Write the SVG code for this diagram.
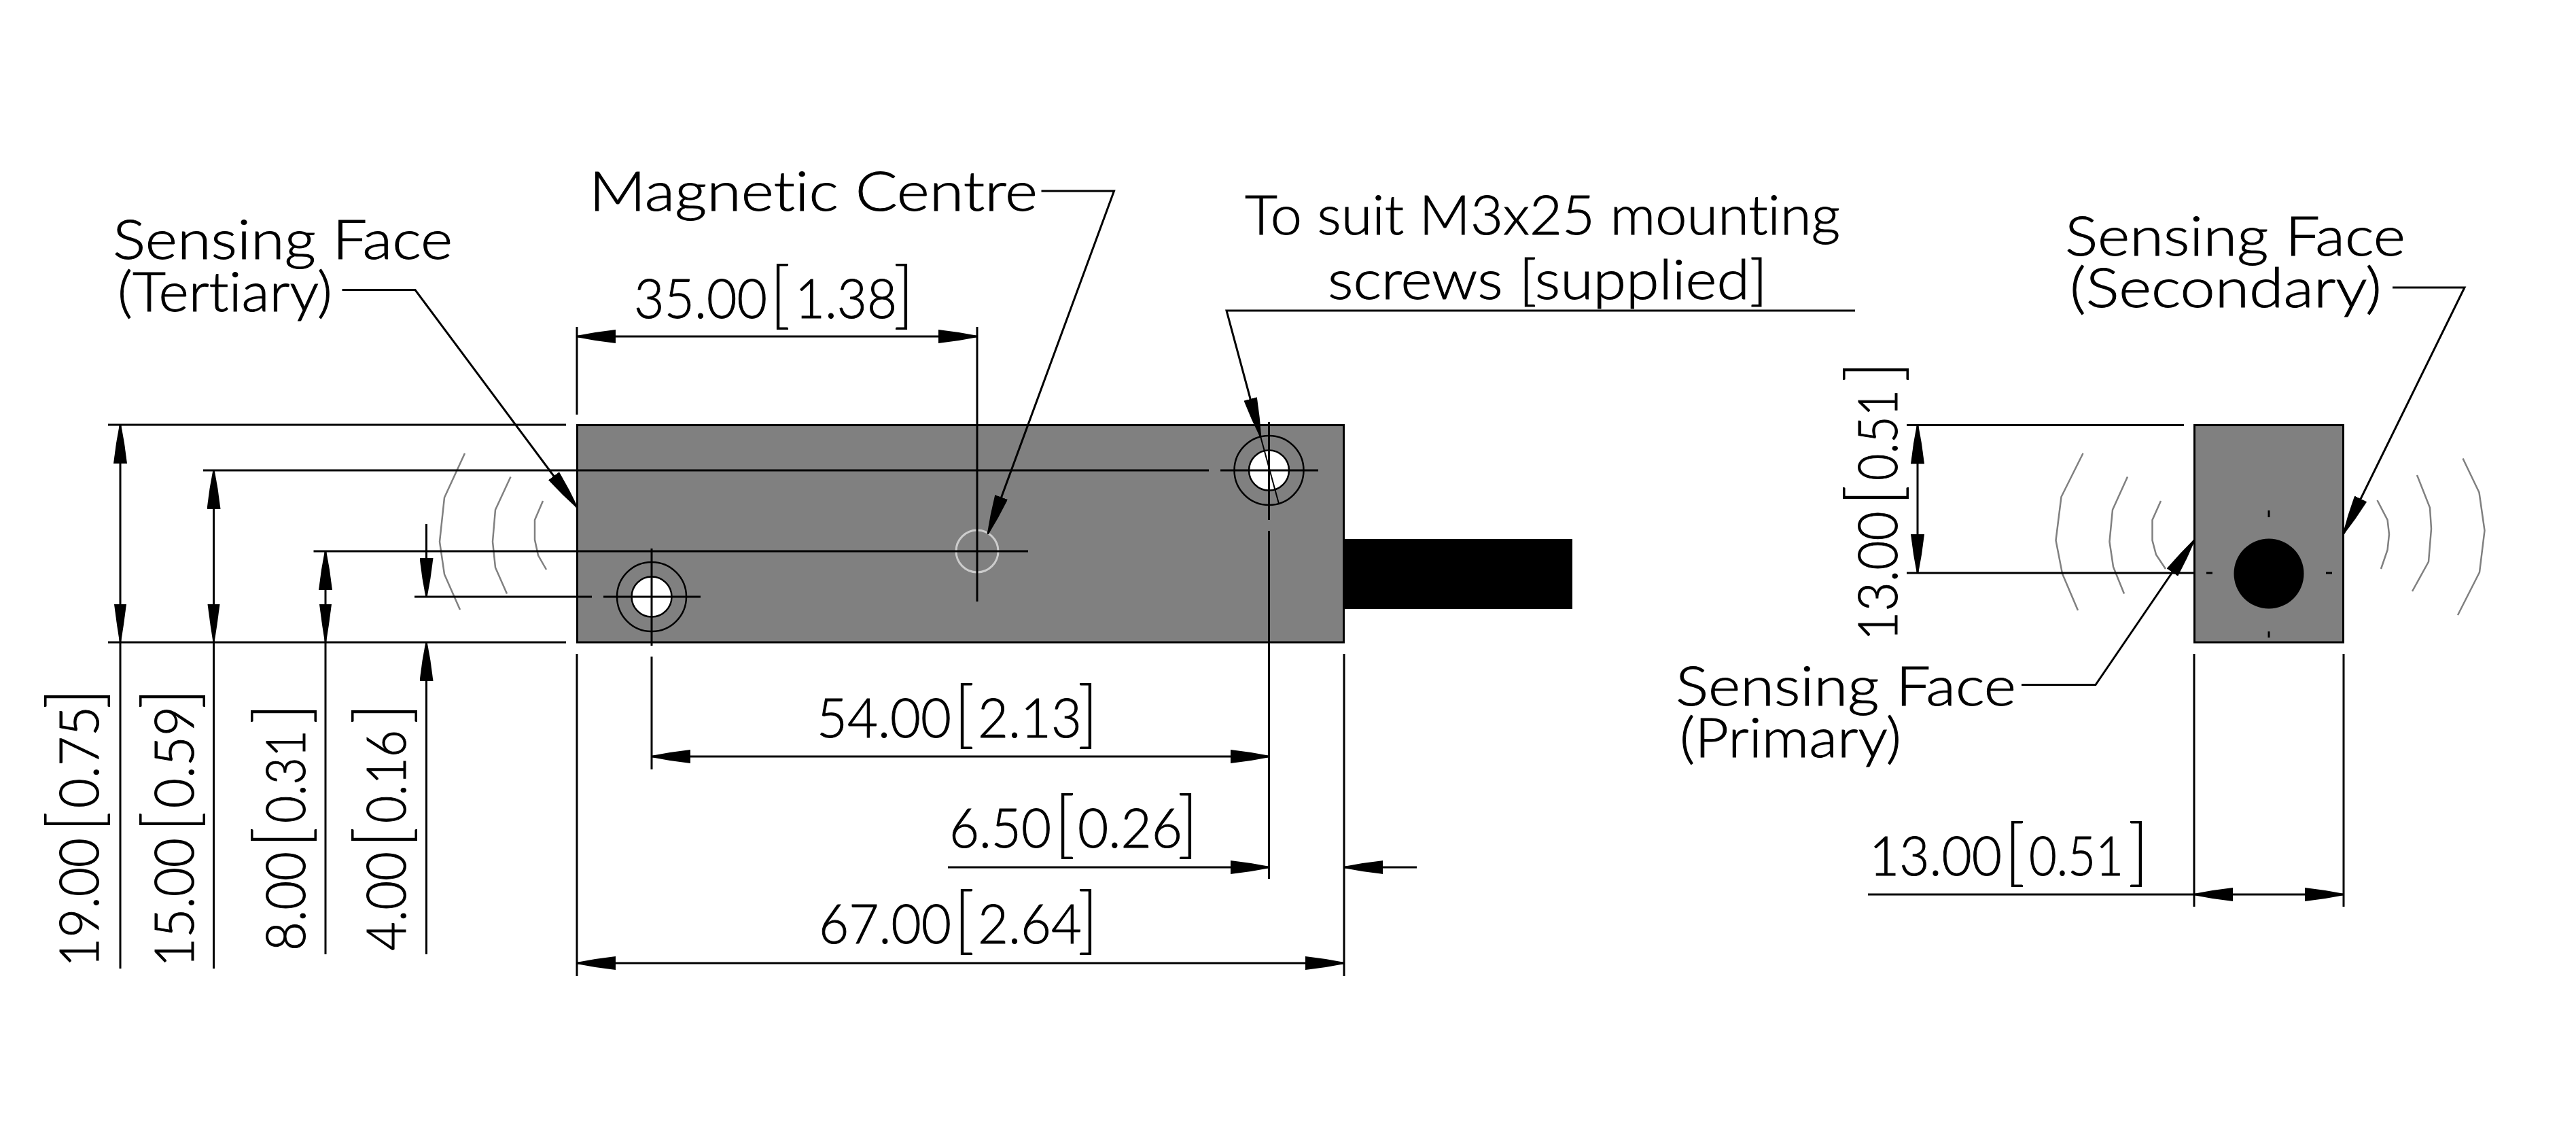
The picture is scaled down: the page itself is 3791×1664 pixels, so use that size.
<svg xmlns="http://www.w3.org/2000/svg" width="3791" height="1664" viewBox="0 0 3791 1664">
<style>
text{font-family:Lato,"Noto Sans","Liberation Sans",sans-serif;font-size:80px;fill:#000;font-weight:300;white-space:pre;font-variant-ligatures:none;stroke:#000;stroke-width:1}
.b{font-size:108px;font-weight:300;stroke:none;baseline-shift:-3px}
.d{fill:none;stroke:#000;stroke-width:3}
.a{marker-end:url(#ah)}
.s{marker-start:url(#ah);marker-end:url(#ah)}
.w{fill:none;stroke:#808080;stroke-width:2.5}
.body{fill:#808080;stroke:#000;stroke-width:3}
.hole{fill:none;stroke:#000;stroke-width:2.500}
</style>
<defs>
<marker id="ah" markerUnits="userSpaceOnUse" markerWidth="58" markerHeight="20" viewBox="0 0 58 20" refX="57" refY="10" orient="auto-start-reverse"><path id="ahp" d="M0 0L30 4L58 9V11L30 16L0 20Z" fill="#000"/></marker>
</defs>
<rect width="3791" height="1664" fill="#fff"/>
<g id="front-view">
<rect x="1978" y="793" width="336" height="103" fill="#000"/>
<rect class="body" x="849.5" y="625.5" width="1128" height="319.5"/>
</g>
<g id="hole-left"><circle cx="959" cy="878" r="51" class="hole"/><circle cx="959" cy="878" r="29.500" fill="#fff" stroke="#000" stroke-width="2.500"/></g>
<g id="hole-right"><circle cx="1867.500" cy="692" r="51" class="hole"/><circle cx="1867.500" cy="692" r="29.500" fill="#fff" stroke="#000" stroke-width="2.500"/></g>
<g id="magnetic-centre"><circle cx="1438" cy="811" r="31" fill="none" stroke="#ccc" stroke-width="3"/></g>
<g id="side-view">
<rect class="body" x="3229.500" y="625.500" width="219" height="319.500"/>
<circle cx="3339" cy="844" r="51.500" fill="#000"/>
<path class="d" d="M3339 751V761M3339 929V938M3247 843H3256M3423 843H3432"/>
</g>
<g id="waves">
<polyline class="w" points="684,667 654,732 647,797 654,845 677,897"/>
<polyline class="w" points="751.500,701.500 729,750 725,797 729,835 746,873.500"/>
<polyline class="w" points="799,737 787,765 787,794 792,817 804,838"/>
<polyline class="w" points="3065.500,667 3033.500,731 3025.500,795 3035,844 3058,898"/>
<polyline class="w" points="3131,701.500 3109,750 3104.500,797 3110,834 3126,873.500"/>
<polyline class="w" points="3180,737 3167.500,765 3167.500,795 3173,816 3187,837"/>
<polyline class="w" points="3498.500,736 3513.600,765 3516,786 3513.600,809 3504,837"/>
<polyline class="w" points="3557,699 3576,747 3578,778 3574,826.500 3550,870"/>
<polyline class="w" points="3624.500,674.500 3648.500,724.500 3656.500,780.600 3649,842 3617,905"/>
</g>
<g id="connectors">
<path class="d" d="M159 625H833M159 945H833M299 692H1779M1796 692H1940M461.500 811H1513M610 878H871M888 878H1031"/>
<path class="d" d="M849 481V610M849 962V1436M1438 481V885M959 807V950M959 966V1132M1867.500 621V765M1867.500 781V1293M1978 962V1436"/>
<line class="d s" x1="849" y1="495" x2="1438" y2="495"/>
<line class="d s" x1="959" y1="1113" x2="1868" y2="1113"/>
<line class="d a" x1="1395" y1="1276" x2="1868" y2="1276"/>
<line class="d a" x1="2085" y1="1276" x2="1978" y2="1276"/>
<line class="d s" x1="849" y1="1417" x2="1978" y2="1417"/>
<line class="d a" x1="177" y1="1425" x2="177" y2="625"/>
<path d="M168 889L172 919L176 945H178L182 919L186 889Z"/>
<line class="d a" x1="314.500" y1="1425" x2="314.500" y2="692"/>
<path d="M305.500 889L309.500 919L313.500 945H315.500L319.500 919L323.500 889Z"/>
<line class="d a" x1="479" y1="1404" x2="479" y2="811"/>
<path d="M470 889L474 919L478 945H480L484 919L488 889Z"/>
<line class="d a" x1="627.500" y1="771" x2="627.500" y2="878"/>
<line class="d a" x1="627.500" y1="1404" x2="627.500" y2="945"/>
<polyline class="d a" points="503.500,426.500 611,426.500 849,746"/>
<polyline class="d a" points="1532.500,281 1639.500,281 1454,785"/>
<polyline class="d a" points="2730,457 1805,457 1855,642"/>
<line x1="1855" y1="642" x2="1882" y2="741" stroke="#000" stroke-width="2"/>
<polyline class="d a" points="2975,1007.500 3084,1007.500 3229,795"/>
<polyline class="d a" points="3521,423 3627,423 3449,785"/>
<path class="d" d="M2806 625.500H3214M2806 843H3229M3229 962V1334M3449 962V1334"/>
<line class="d s" x1="2822" y1="625.500" x2="2822" y2="843"/>
<line class="d s" x1="3229" y1="1316" x2="3449" y2="1316"/>
<line class="d" x1="2749" y1="1316" x2="3229" y2="1316"/>
</g>
<g id="label-tertiary"><text x="166" y="381" textLength="500" lengthAdjust="spacingAndGlyphs">Sensing Face</text><text x="173" y="458" textLength="316" lengthAdjust="spacingAndGlyphs">(Tertiary)</text></g>
<g id="label-magnetic"><text x="867" y="310" textLength="660" lengthAdjust="spacingAndGlyphs">Magnetic Centre</text></g>
<g id="label-screws"><text x="1832" y="345" textLength="876" lengthAdjust="spacingAndGlyphs">To suit M3x25 mounting</text><text x="1954" y="440" textLength="647" lengthAdjust="spacingAndGlyphs">screws [supplied]</text></g>
<g id="label-secondary"><text x="3039" y="376" textLength="501" lengthAdjust="spacingAndGlyphs">Sensing Face</text><text x="3046" y="451.500" textLength="459" lengthAdjust="spacingAndGlyphs">(Secondary)</text></g>
<g id="label-primary"><text x="2466" y="1038" textLength="501" lengthAdjust="spacingAndGlyphs">Sensing Face</text><text x="2472" y="1114" textLength="326" lengthAdjust="spacingAndGlyphs">(Primary)</text></g>
<g id="dim-35"><text y="468"><tspan x="933" textLength="196" lengthAdjust="spacingAndGlyphs">35.00</tspan><tspan class="b" x="1132" textLength="32" lengthAdjust="spacingAndGlyphs">[</tspan><tspan x="1170" textLength="150" lengthAdjust="spacingAndGlyphs">1.38</tspan><tspan class="b" x="1314" textLength="32" lengthAdjust="spacingAndGlyphs">]</tspan></text></g>
<g id="dim-54"><text y="1085"><tspan x="1202" textLength="198" lengthAdjust="spacingAndGlyphs">54.00</tspan><tspan class="b" x="1403" textLength="32" lengthAdjust="spacingAndGlyphs">[</tspan><tspan x="1439" textLength="153" lengthAdjust="spacingAndGlyphs">2.13</tspan><tspan class="b" x="1585" textLength="32" lengthAdjust="spacingAndGlyphs">]</tspan></text></g>
<g id="dim-6-5"><text y="1247"><tspan x="1397" textLength="150" lengthAdjust="spacingAndGlyphs">6.50</tspan><tspan class="b" x="1551" textLength="32" lengthAdjust="spacingAndGlyphs">[</tspan><tspan x="1586" textLength="154" lengthAdjust="spacingAndGlyphs">0.26</tspan><tspan class="b" x="1732" textLength="32" lengthAdjust="spacingAndGlyphs">]</tspan></text></g>
<g id="dim-67"><text y="1388"><tspan x="1205" textLength="195" lengthAdjust="spacingAndGlyphs">67.00</tspan><tspan class="b" x="1403" textLength="32" lengthAdjust="spacingAndGlyphs">[</tspan><tspan x="1439" textLength="153" lengthAdjust="spacingAndGlyphs">2.64</tspan><tspan class="b" x="1585" textLength="32" lengthAdjust="spacingAndGlyphs">]</tspan></text></g>
<g id="dim-13-h"><text y="1288"><tspan x="2751" textLength="195" lengthAdjust="spacingAndGlyphs">13.00</tspan><tspan class="b" x="2949" textLength="32" lengthAdjust="spacingAndGlyphs">[</tspan><tspan x="2986" textLength="139" lengthAdjust="spacingAndGlyphs">0.51</tspan><tspan class="b" x="3131" textLength="32" lengthAdjust="spacingAndGlyphs">]</tspan></text></g>
<g id="dim-19"><text transform="translate(145 1423) rotate(-90)"><tspan x="0" textLength="190" lengthAdjust="spacingAndGlyphs">19.00</tspan><tspan class="b" x="198" textLength="32" lengthAdjust="spacingAndGlyphs">[</tspan><tspan x="234" textLength="150" lengthAdjust="spacingAndGlyphs">0.75</tspan><tspan class="b" x="379" textLength="32" lengthAdjust="spacingAndGlyphs">]</tspan></text></g>
<g id="dim-15"><text transform="translate(285 1423) rotate(-90)"><tspan x="0" textLength="190" lengthAdjust="spacingAndGlyphs">15.00</tspan><tspan class="b" x="198" textLength="32" lengthAdjust="spacingAndGlyphs">[</tspan><tspan x="234" textLength="150" lengthAdjust="spacingAndGlyphs">0.59</tspan><tspan class="b" x="379" textLength="32" lengthAdjust="spacingAndGlyphs">]</tspan></text></g>
<g id="dim-8"><text transform="translate(449 1399) rotate(-90)"><tspan x="0" textLength="146" lengthAdjust="spacingAndGlyphs">8.00</tspan><tspan class="b" x="151" textLength="32" lengthAdjust="spacingAndGlyphs">[</tspan><tspan x="188" textLength="137" lengthAdjust="spacingAndGlyphs">0.31</tspan><tspan class="b" x="333" textLength="32" lengthAdjust="spacingAndGlyphs">]</tspan></text></g>
<g id="dim-4"><text transform="translate(597 1399) rotate(-90)"><tspan x="0" textLength="146" lengthAdjust="spacingAndGlyphs">4.00</tspan><tspan class="b" x="151" textLength="32" lengthAdjust="spacingAndGlyphs">[</tspan><tspan x="188" textLength="137" lengthAdjust="spacingAndGlyphs">0.16</tspan><tspan class="b" x="333" textLength="32" lengthAdjust="spacingAndGlyphs">]</tspan></text></g>
<g id="dim-13-v"><text transform="translate(2792 943) rotate(-90)"><tspan x="0" textLength="191" lengthAdjust="spacingAndGlyphs">13.00</tspan><tspan class="b" x="198" textLength="32" lengthAdjust="spacingAndGlyphs">[</tspan><tspan x="236" textLength="134" lengthAdjust="spacingAndGlyphs">0.51</tspan><tspan class="b" x="380" textLength="32" lengthAdjust="spacingAndGlyphs">]</tspan></text></g>
</svg>
